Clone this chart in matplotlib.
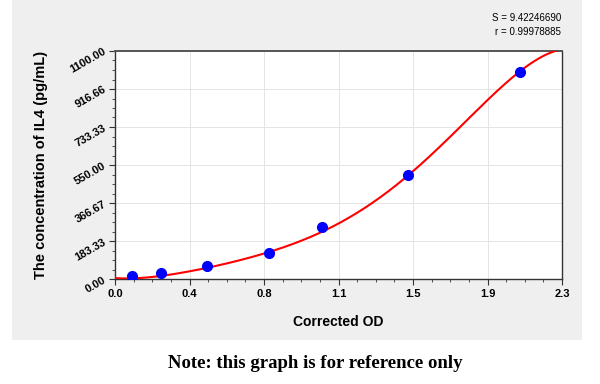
import numpy as np
import matplotlib
matplotlib.use("Agg")
import matplotlib.pyplot as plt
from matplotlib.patches import Rectangle
from matplotlib.ticker import FixedLocator, AutoMinorLocator

# standard points
od = [0.086, 0.235, 0.472, 0.791, 1.064, 1.506, 2.084]
conc = [15.6, 31.25, 62.5, 125, 250, 500, 1000]
# positions
curve_od = [0.0, 0.088, 0.233, 0.473, 0.791, 0.911, 1.064, 1.21, 1.364,
            1.513, 1.707, 1.895, 2.084, 2.264]
curve_conc = [0, 8, 18, 52, 111, 172, 247, 309, 381, 492, 671, 855, 997, 1100]
x_ticks = [0.0, 0.4, 0.8, 1.1, 1.5, 1.9, 2.3]
y_ticks = [0.00, 183.33, 366.67, 550.00, 733.33, 916.66, 1100.00]

plt.rcParams['font.family'] = ['Liberation Sans', 'DejaVu Sans']

fig = plt.figure(figsize=(6, 3.84), dpi=100)
fig.patch.set_facecolor('white')
fig.patches.append(Rectangle((12/600, 1-340/384), 570/600, 340/384,
                             transform=fig.transFigure, facecolor='#efefef',
                             edgecolor='none', zorder=-5))

ax = fig.add_axes([115/600, 1-279/384, 447/600, 228/384])
ax.set_facecolor('white')

# smooth polynomial fitted to the curve readings
coef = np.polyfit(curve_od, curve_conc, 5)
xs = np.linspace(0, 2.3, 400)
ax.plot(xs, np.polyval(coef, xs), color='#ff0000', lw=1.5, zorder=3)
ax.plot(od, conc, 'o', color='#0000ff', ms=7, zorder=4)

ax.set_xlim(0, 2.3)
ax.set_ylim(0, 1100)
ax.xaxis.set_major_locator(FixedLocator(np.linspace(0, 2.3, 7)))
ax.yaxis.set_major_locator(FixedLocator(np.linspace(0, 1100, 7)))
ax.set_xticklabels([f"{v:.1f}" for v in x_ticks], fontsize=8, fontweight='bold')
ax.set_yticklabels([f"{v:.2f}" for v in y_ticks], fontsize=8, fontweight='bold',
                   rotation=30, ha='right', va='center', rotation_mode='anchor')
ax.xaxis.set_minor_locator(AutoMinorLocator(4))
ax.yaxis.set_minor_locator(AutoMinorLocator(4))
ax.tick_params(which='major', direction='out', length=4, width=0.8, color='#333333', pad=3)
ax.tick_params(which='minor', direction='out', length=2.5, width=0.6, color='#333333')
ax.grid(True, which='major', color='#e4e4e4', lw=0.7)
ax.set_axisbelow(True)
for s in ax.spines.values():
    s.set_color('#333333')
    s.set_linewidth(1.0)
ax.spines['top'].set_linewidth(1.4)
ax.spines['top'].set_color('#555555')

ax.set_xlabel("Corrected OD", fontsize=10, fontweight='bold')
ax.xaxis.set_label_coords(0.5, -0.16)
ax.set_ylabel("The concentration of IL4 (pg/mL)", fontsize=10.5, fontweight='bold')
ax.yaxis.set_label_coords(-0.15, 0.5)

fig.text(561/600, 1-18/384, "S = 9.42246690", ha='right', va='center', fontsize=7)
fig.text(561/600, 1-32/384, "r = 0.99978885", ha='right', va='center', fontsize=7)

fig.text(315/600, 1-364/384, "Note: this graph is for reference only", ha='center', va='center',
         fontsize=13.5, fontweight='bold', family=['Liberation Serif', 'DejaVu Serif'])

fig.savefig("out.png", dpi=100)
